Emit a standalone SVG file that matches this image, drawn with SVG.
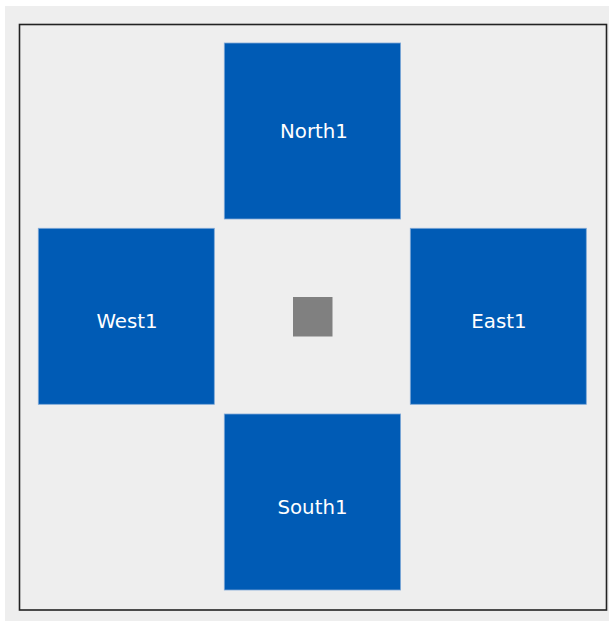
<svg xmlns="http://www.w3.org/2000/svg" width="609" height="621" viewBox="0 0 609 621">
<style>
.box{fill:#005bb5;stroke:#7fa9d8;stroke-width:0.8}
.lbl{fill:#ffffff;font-family:"DejaVu Sans",sans-serif;font-size:19.8px;text-anchor:middle}
</style>
<rect x="0" y="0" width="609" height="621" fill="#ffffff"/>
<rect x="5" y="6" width="604" height="615" fill="#eeeeee"/>
<rect x="19.5" y="24.5" width="587" height="585.5" fill="#eeeeee" stroke="#222222" stroke-width="1.6"/>
<g id="connectors"></g>
<g id="center"><rect x="293" y="297" width="39.5" height="39.5" fill="#808080"/></g>
<g id="North1"><rect class="box" x="224.3" y="43" width="176.3" height="176"/><text class="lbl" x="314" y="138">North1</text></g>
<g id="West1"><rect class="box" x="38.3" y="228.3" width="176" height="176"/><text class="lbl" x="127" y="328">West1</text></g>
<g id="East1"><rect class="box" x="410.3" y="228.3" width="176" height="176"/><text class="lbl" x="499" y="328">East1</text></g>
<g id="South1"><rect class="box" x="224.3" y="414" width="176.3" height="176"/><text class="lbl" x="312.5" y="513.5">South1</text></g>
</svg>
